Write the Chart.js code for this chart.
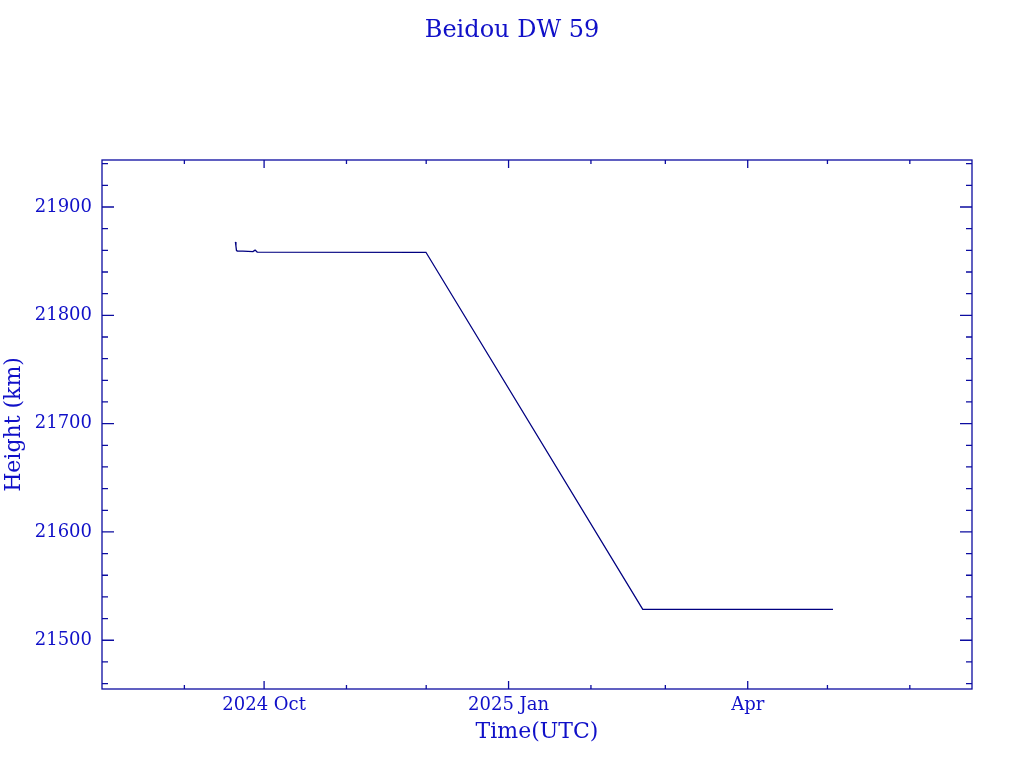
<!DOCTYPE html>
<html>
<head>
<meta charset="utf-8">
<script src="https://cdn.jsdelivr.net/npm/chart.js@4"></script>
<style>
  html, body { margin: 0; padding: 0; background: #fff; }
  canvas { display: block; }
</style>
</head>
<body>
<canvas id="myChart" width="1024" height="768"></canvas>
<script>
// days counted from 2024-10-01
const days = [-10.8, -10.6, -10.4, -10.1, -8.0, -4.2, -3.4, -2.6, 60.9, 142.5, 214.1]
const heightKm = [21867.8, 21864.0, 21860.0, 21859.3, 21859.2, 21858.8, 21860.2, 21858.4, 21858.2, 21528.5, 21528.5]

const xMajorTicks = [0, 92, 182]
const xMajorLabels = ['2024 Oct', '2025 Jan', 'Apr']
const xMinorTicks = [-30, 31, 61, 123, 151, 212, 243]

const yMajorTicks = [21500, 21600, 21700, 21800, 21900]
const yMinorTicks = [21460, 21480, 21520, 21540, 21560, 21580, 21620, 21640, 21660, 21680,
  21720, 21740, 21760, 21780, 21820, 21840, 21860, 21880, 21920, 21940]

const textColor = '#1010c8'
const frameColor = '#0c0ca0'
const lineColor = '#000080'
const fontFam = "'DejaVu Serif', serif"

const ctx = document.getElementById('myChart')

// frame + inward ticks on all four sides
const frameTicks = {
  id: 'frameTicks',
  afterDraw(chart) {
    const c = chart.ctx
    const a = chart.chartArea
    const xs = chart.scales.x
    const ys = chart.scales.y
    c.save()
    c.strokeStyle = frameColor
    c.lineWidth = 1.3
    c.strokeRect(a.left, a.top, a.right - a.left, a.bottom - a.top)
    c.beginPath()
    const xt = (v, len) => {
      const p = xs.getPixelForValue(v)
      c.moveTo(p, a.bottom); c.lineTo(p, a.bottom - len)
      c.moveTo(p, a.top); c.lineTo(p, a.top + len)
    }
    const yt = (v, len) => {
      const p = ys.getPixelForValue(v)
      c.moveTo(a.left, p); c.lineTo(a.left + len, p)
      c.moveTo(a.right, p); c.lineTo(a.right - len, p)
    }
    xMajorTicks.forEach(v => xt(v, 8))
    xMinorTicks.forEach(v => xt(v, 4))
    yMajorTicks.forEach(v => yt(v, 12))
    yMinorTicks.forEach(v => yt(v, 6))
    c.stroke()
    c.restore()
  }
}

new Chart(ctx, {
  type: 'line',
  data: {
    datasets: [{
      data: days.map((d, i) => ({ x: d, y: heightKm[i] })),
      borderColor: lineColor,
      borderWidth: 1.3,
      pointRadius: 0,
      tension: 0,
      fill: false
    }]
  },
  options: {
    responsive: false,
    animation: false,
    layout: { padding: 0 },
    plugins: {
      legend: { display: false },
      tooltip: { enabled: false },
      title: {
        display: true,
        text: 'Beidou DW 59',
        color: textColor,
        font: { family: fontFam, size: 24, weight: 'normal' },
        padding: { top: 16, bottom: 115.2 }
      }
    },
    scales: {
      x: {
        type: 'linear',
        min: -61,
        max: 266.4,
        grid: { display: false, drawTicks: false },
        border: { display: false },
        afterBuildTicks: s => { s.ticks = xMajorTicks.map(v => ({ value: v })) },
        afterFit: s => { s.height = 79 },
        ticks: {
          padding: 6,
          color: textColor,
          font: { family: fontFam, size: 18 },
          maxRotation: 0,
          autoSkip: false,
          callback: v => xMajorLabels[xMajorTicks.indexOf(v)]
        },
        title: {
          display: true,
          text: 'Time(UTC)',
          color: textColor,
          font: { family: fontFam, size: 22 },
          padding: { top: 0, bottom: 22.8 }
        }
      },
      y: {
        min: 21455,
        max: 21943.4,
        grid: { display: false, drawTicks: false },
        border: { display: false },
        afterBuildTicks: s => { s.ticks = yMajorTicks.map(v => ({ value: v })) },
        afterFit: s => { s.width = 102 },
        ticks: {
          padding: 10,
          color: textColor,
          font: { family: fontFam, size: 18 },
          callback: v => String(v)
        },
        title: {
          display: true,
          text: 'Height (km)',
          color: textColor,
          font: { family: fontFam, size: 22 },
          padding: { top: 1, bottom: 0 }
        }
      },
      // empty right-hand box so the title stays centred on the page
      yRight: {
        position: 'right',
        min: 21455,
        max: 21943.4,
        grid: { display: false, drawTicks: false },
        border: { display: false },
        ticks: { display: false },
        afterFit: s => { s.width = 52 }
      }
    }
  },
  plugins: [frameTicks]
})
</script>
</body>
</html>
